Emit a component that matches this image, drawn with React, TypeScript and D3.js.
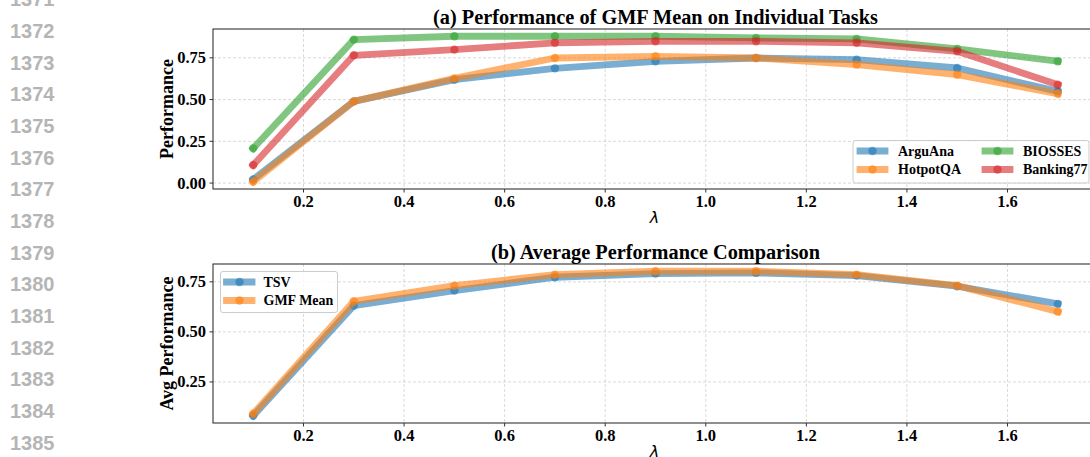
import React from "react";
import * as d3 from "d3";

const lambdas = [0.1, 0.3, 0.5, 0.7, 0.9, 1.1, 1.3, 1.5, 1.7];

const arguAna = [0.022, 0.489, 0.619, 0.687, 0.729, 0.749, 0.739, 0.689, 0.549];
const hotpotQA = [0.008, 0.489, 0.627, 0.749, 0.759, 0.749, 0.709, 0.649, 0.535];
const biosses = [0.208, 0.859, 0.879, 0.879, 0.879, 0.869, 0.863, 0.803, 0.729];
const banking77 = [0.108, 0.765, 0.799, 0.84, 0.849, 0.849, 0.84, 0.789, 0.589];

const tsv = [0.081, 0.631, 0.706, 0.773, 0.791, 0.795, 0.781, 0.728, 0.64];
const gmfMean = [0.091, 0.653, 0.731, 0.786, 0.803, 0.803, 0.786, 0.731, 0.601];

const xTicks = [0.2, 0.4, 0.6, 0.8, 1.0, 1.2, 1.4, 1.6];
const yTicksTop = [0.0, 0.25, 0.5, 0.75];
const yTicksBottom = [0.25, 0.5, 0.75];

const lineNumbers = [1371, 1372, 1373, 1374, 1375, 1376, 1377, 1378, 1379, 1380, 1381, 1382, 1383, 1384, 1385];

const topSeries = [
  { name: "ArguAna", values: arguAna, color: "#1f77b4" },
  { name: "HotpotQA", values: hotpotQA, color: "#ff7f0e" },
  { name: "BIOSSES", values: biosses, color: "#2ca02c" },
  { name: "Banking77", values: banking77, color: "#d62728" },
];
const bottomSeries = [
  { name: "TSV", values: tsv, color: "#1f77b4" },
  { name: "GMF Mean", values: gmfMean, color: "#ff7f0e" },
];

const SERIF = "'Liberation Serif', 'Times New Roman', serif";

function padDomain(vals: number[]): [number, number] {
  const mn = d3.min(vals) as number;
  const mx = d3.max(vals) as number;
  const m = (mx - mn) * 0.05;
  return [mn - m, mx + m];
}

type Series = { name: string; values: number[]; color: string };

function Panel(props: {
  top: number;
  bottom: number;
  series: Series[];
  yTicks: number[];
  title: string;
  ylabel: string;
  legend: "lr" | "ul";
}) {
  const { top, bottom, series, yTicks, title, ylabel, legend } = props;
  const left = 213;
  const right = 1098;
  const xDom = padDomain(lambdas);
  const x = d3.scaleLinear().domain(xDom).range([left, right]);
  const allVals = series.flatMap((s) => s.values);
  const y = d3.scaleLinear().domain(padDomain(allVals)).range([bottom, top]);
  const line = d3
    .line<number>()
    .x((_, i) => x(lambdas[i]))
    .y((d) => y(d));
  const cx = (left + right) / 2;
  const cy = (top + bottom) / 2;
  const lw = 6.8;
  const r = 4.2;

  const legendEls: React.ReactNode[] = [];
  if (legend === "lr") {
    legendEls.push(
      <rect key="lbox" x={853} y={140.5} width={236} height={42.5} rx={2.5} fill="white" fillOpacity={0.8} stroke="#cccccc" strokeWidth={1} />
    );
    const cols = [
      { hx: 857, tx: 898 },
      { hx: 982, tx: 1023 },
    ];
    const rows = [151, 169.5];
    series.forEach((s, i) => {
      const c = cols[Math.floor(i / 2)];
      const ry = rows[i % 2];
      legendEls.push(
        <line key={"lg" + i} x1={c.hx + 3} x2={c.hx + 28} y1={ry} y2={ry} stroke={s.color} strokeOpacity={0.6} strokeWidth={lw} strokeLinecap="square" />
      );
      legendEls.push(
        <circle key={"lm" + i} cx={c.hx + 15.5} cy={ry} r={r} fill={s.color} fillOpacity={0.6} />
      );
      legendEls.push(
        <text key={"lt" + i} x={c.tx} y={ry + 4.8} fontFamily={SERIF} fontWeight="bold" fontSize={14} fill="#000">
          {s.name}
        </text>
      );
    });
  } else {
    legendEls.push(
      <rect key="lbox" x={220.5} y={271.5} width={117} height={41} rx={2.5} fill="white" fillOpacity={0.8} stroke="#cccccc" strokeWidth={1} />
    );
    const rows = [282, 300.5];
    series.forEach((s, i) => {
      const ry = rows[i];
      legendEls.push(
        <line key={"lg" + i} x1={226.5} x2={252} y1={ry} y2={ry} stroke={s.color} strokeOpacity={0.6} strokeWidth={lw} strokeLinecap="square" />
      );
      legendEls.push(
        <circle key={"lm" + i} cx={239.5} cy={ry} r={r} fill={s.color} fillOpacity={0.6} />
      );
      legendEls.push(
        <text key={"lt" + i} x={263.5} y={ry + 4.8} fontFamily={SERIF} fontWeight="bold" fontSize={14} fill="#000">
          {s.name}
        </text>
      );
    });
  }

  return (
    <g>
      {xTicks.map((t) => (
        <line key={"gx" + t} x1={x(t)} x2={x(t)} y1={top} y2={bottom} stroke="#b0b0b0" strokeOpacity={0.6} strokeWidth={0.8} strokeDasharray="3,2" />
      ))}
      {yTicks.map((t) => (
        <line key={"gy" + t} x1={left} x2={right} y1={y(t)} y2={y(t)} stroke="#b0b0b0" strokeOpacity={0.6} strokeWidth={0.8} strokeDasharray="3,2" />
      ))}
      {series.map((s) => (
        <g key={s.name}>
          <path d={line(s.values) || ""} fill="none" stroke={s.color} strokeOpacity={0.6} strokeWidth={lw} strokeLinejoin="round" strokeLinecap="square" />
          {s.values.map((v, i) => (
            <circle key={i} cx={x(lambdas[i])} cy={y(v)} r={r} fill={s.color} fillOpacity={0.6} />
          ))}
        </g>
      ))}
      <rect x={left} y={top} width={right - left} height={bottom - top} fill="none" stroke="#333333" strokeWidth={1.1} />
      {xTicks.map((t) => (
        <g key={"tx" + t}>
          <line x1={x(t)} x2={x(t)} y1={bottom} y2={bottom + 3.5} stroke="#333" strokeWidth={1} />
          <text x={x(t)} y={bottom + 17.5} textAnchor="middle" fontFamily={SERIF} fontWeight="bold" fontSize={16.5} fill="#000">
            {t.toFixed(1)}
          </text>
        </g>
      ))}
      {yTicks.map((t) => (
        <g key={"ty" + t}>
          <line x1={left - 3.5} x2={left} y1={y(t)} y2={y(t)} stroke="#333" strokeWidth={1} />
          <text x={left - 7} y={y(t) + 5.5} textAnchor="end" fontFamily={SERIF} fontWeight="bold" fontSize={16.5} fill="#000">
            {t.toFixed(2)}
          </text>
        </g>
      ))}
      <text x={cx - 1} y={bottom + 34} textAnchor="middle" fontFamily="'DejaVu Sans', sans-serif" fontStyle="italic" fontSize={16} fill="#000">
        λ
      </text>
      <text transform={`translate(172.5,${cy}) rotate(-90)`} textAnchor="middle" fontFamily={SERIF} fontWeight="bold" fontSize={18} fill="#000">
        {ylabel}
      </text>
      <text x={cx} y={top - 5} textAnchor="middle" fontFamily={SERIF} fontWeight="bold" fontSize={20.3} fill="#000">
        {title}
      </text>
      {legendEls}
    </g>
  );
}

export default function App() {
  return (
    <svg width={1090} height={457} style={{ position: "absolute", left: 0, top: 0, background: "#fff" }}>
      <rect x={0} y={0} width={1090} height={457} fill="#fff" />
      {lineNumbers.map((n, i) => (
        <text key={n} x={10} y={6.3 + i * 31.67} fontFamily="'Liberation Sans', Arial, sans-serif" fontWeight="bold" fontSize={20} fill="#b5b5b5">
          {n}
        </text>
      ))}
      <Panel
        top={29}
        bottom={189}
        series={topSeries}
        yTicks={yTicksTop}
        title="(a) Performance of GMF Mean on Individual Tasks"
        ylabel="Performance"
        legend="lr"
      />
      <Panel
        top={264}
        bottom={423}
        series={bottomSeries}
        yTicks={yTicksBottom}
        title="(b) Average Performance Comparison"
        ylabel="Avg Performance"
        legend="ul"
      />
    </svg>
  );
}
